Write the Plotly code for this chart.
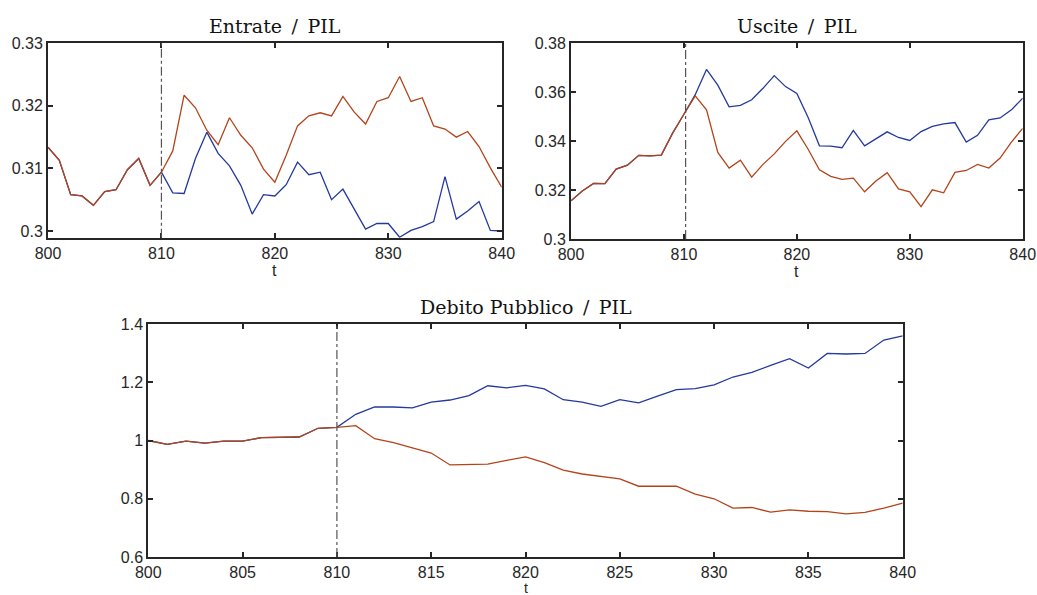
import plotly.graph_objects as go

t = list(range(800, 841))

# Entrate / PIL
entrate_a = [0.3134, 0.3113, 0.3058, 0.3056, 0.3041, 0.3063, 0.3066, 0.3098, 0.3116, 0.3073, 0.3094,
             0.3061, 0.3060, 0.3116, 0.3158, 0.3124, 0.3104, 0.3073, 0.3027, 0.3058, 0.3056,
             0.3074, 0.3110, 0.3090, 0.3094, 0.3050, 0.3067, 0.3035, 0.3003, 0.3012, 0.3012,
             0.2990, 0.3001, 0.3007, 0.3015, 0.3087, 0.3019, 0.3032, 0.3047, 0.3001, 0.3000]
entrate_b = [0.3134, 0.3113, 0.3058, 0.3056, 0.3041, 0.3063, 0.3066, 0.3098, 0.3116, 0.3073, 0.3094,
             0.3128, 0.3217, 0.3197, 0.3161, 0.3138, 0.3181, 0.3153, 0.3133, 0.3099, 0.3078,
             0.3121, 0.3168, 0.3184, 0.3189, 0.3184, 0.3215, 0.3190, 0.3171, 0.3207, 0.3213,
             0.3247, 0.3207, 0.3213, 0.3168, 0.3163, 0.3150, 0.3159, 0.3135, 0.3101, 0.3070]

# Uscite / PIL
uscite_a = [0.3156, 0.3196, 0.3227, 0.3226, 0.3286, 0.3302, 0.3342, 0.3340, 0.3343, 0.3433, 0.3510,
            0.3590, 0.3693, 0.3629, 0.3540, 0.3546, 0.3569, 0.3616, 0.3668, 0.3623, 0.3595,
            0.3497, 0.3381, 0.3380, 0.3373, 0.3444, 0.3381, 0.3410, 0.3438, 0.3415, 0.3403,
            0.3439, 0.3460, 0.3471, 0.3476, 0.3396, 0.3424, 0.3487, 0.3495, 0.3528, 0.3576]
uscite_b = [0.3156, 0.3196, 0.3227, 0.3226, 0.3286, 0.3302, 0.3342, 0.3340, 0.3343, 0.3433, 0.3510,
            0.3585, 0.3528, 0.3354, 0.3290, 0.3322, 0.3253, 0.3305, 0.3348, 0.3399, 0.3442,
            0.3367, 0.3283, 0.3256, 0.3244, 0.3249, 0.3193, 0.3237, 0.3271, 0.3205, 0.3193,
            0.3132, 0.3201, 0.3189, 0.3272, 0.3280, 0.3305, 0.3290, 0.3331, 0.3396, 0.3452]

# Debito Pubblico / PIL
debito_a = [1.000, 0.987, 0.998, 0.991, 0.998, 0.998, 1.010, 1.010, 1.012, 1.042, 1.045,
            1.090, 1.115, 1.115, 1.112, 1.132, 1.139, 1.154, 1.188, 1.181, 1.189,
            1.177, 1.140, 1.132, 1.117, 1.140, 1.129, 1.152, 1.175, 1.178, 1.191,
            1.218, 1.234, 1.258, 1.281, 1.249, 1.299, 1.297, 1.299, 1.345, 1.359]
debito_b = [1.000, 0.987, 0.998, 0.991, 0.998, 0.998, 1.010, 1.010, 1.012, 1.042, 1.045,
            1.051, 1.006, 0.993, 0.975, 0.957, 0.916, 0.917, 0.919, 0.932, 0.944,
            0.924, 0.898, 0.885, 0.876, 0.868, 0.843, 0.843, 0.843, 0.816, 0.800,
            0.768, 0.770, 0.754, 0.762, 0.757, 0.756, 0.748, 0.753, 0.768, 0.785]

titles = ["Entrate / PIL", "Uscite / PIL", "Debito Pubblico / PIL"]
shock_t = [810, 810.15, 810]

BLUE = "#24399c"
ORANGE = "#b3441a"
AX = "#262626"
W, H = 1037, 595

fig = go.Figure()

panels = [
    # (series a, series b, x domain px, y domain px (top, bottom), y range, y dtick, x dtick,
    #  t-label offset, t-label size)
    (entrate_a, entrate_b, (48, 501.7), (43.3, 237.7), [0.29893, 0.33], 0.01, 10, 33, 16),
    (uscite_a, uscite_b, (571, 1022.7), (43.3, 239), [0.3, 0.38], 0.02, 10, 33, 16),
    (debito_a, debito_b, (148.3, 902.7), (324, 557), [0.6, 1.4], 0.2, 5, 31, 14),
]

for i, (ya, yb, xd, yd, yr, ydt, xdt, toff, tsize) in enumerate(panels):
    n = "" if i == 0 else str(i + 1)
    xa, ya_ref = "x" + n, "y" + n
    fig.add_trace(go.Scatter(x=t, y=ya, mode="lines", line=dict(color=BLUE, width=1.3),
                             xaxis=xa, yaxis=ya_ref, showlegend=False))
    fig.add_trace(go.Scatter(x=t, y=yb, mode="lines", line=dict(color=ORANGE, width=1.3),
                             xaxis=xa, yaxis=ya_ref, showlegend=False))
    axis_common = dict(showline=True, linewidth=2, linecolor=AX, mirror="ticks",
                       ticks="inside", ticklen=5, tickwidth=2, tickcolor=AX,
                       showgrid=False, zeroline=False, automargin=False,
                       tickfont=dict(family="Liberation Sans, Arial, sans-serif", size=16, color=AX))
    fig.update_layout(**{
        "xaxis" + n: dict(domain=[xd[0] / W, xd[1] / W], range=[800, 840], dtick=xdt,
                          tick0=800, anchor=ya_ref, **axis_common),
        "yaxis" + n: dict(domain=[1 - yd[1] / H, 1 - yd[0] / H], range=yr, dtick=ydt,
                          tick0=0.3 if i < 2 else 0.6, anchor=xa, **axis_common),
    })
    fig.add_shape(type="line", xref=xa, yref=ya_ref + " domain", x0=shock_t[i], x1=shock_t[i],
                  y0=0, y1=1, line=dict(color="#555555", width=1.2, dash="dashdot"))
    # panel title
    fig.add_annotation(text=titles[i].replace(" / ", "\u2002/\u2002"), xref="paper", yref="paper",
                       x=(xd[0] + xd[1]) / 2 / W, y=1 - (yd[0] - 17) / H,
                       xanchor="center", yanchor="middle", showarrow=False,
                       font=dict(family="DejaVu Serif, serif", size=19, color="#111111"))
    # x axis label
    fig.add_annotation(text="t", xref="paper", yref="paper",
                       x=(xd[0] + xd[1]) / 2 / W, y=1 - (yd[1] + toff) / H,
                       xanchor="center", yanchor="middle", showarrow=False, borderpad=0,
                       font=dict(family="Liberation Sans, Arial, sans-serif", size=tsize, color=AX))

fig.update_layout(width=W, height=H, margin=dict(l=0, r=0, t=0, b=0, autoexpand=False),
                  paper_bgcolor="white", plot_bgcolor="white")

fig.write_html("out.html")
